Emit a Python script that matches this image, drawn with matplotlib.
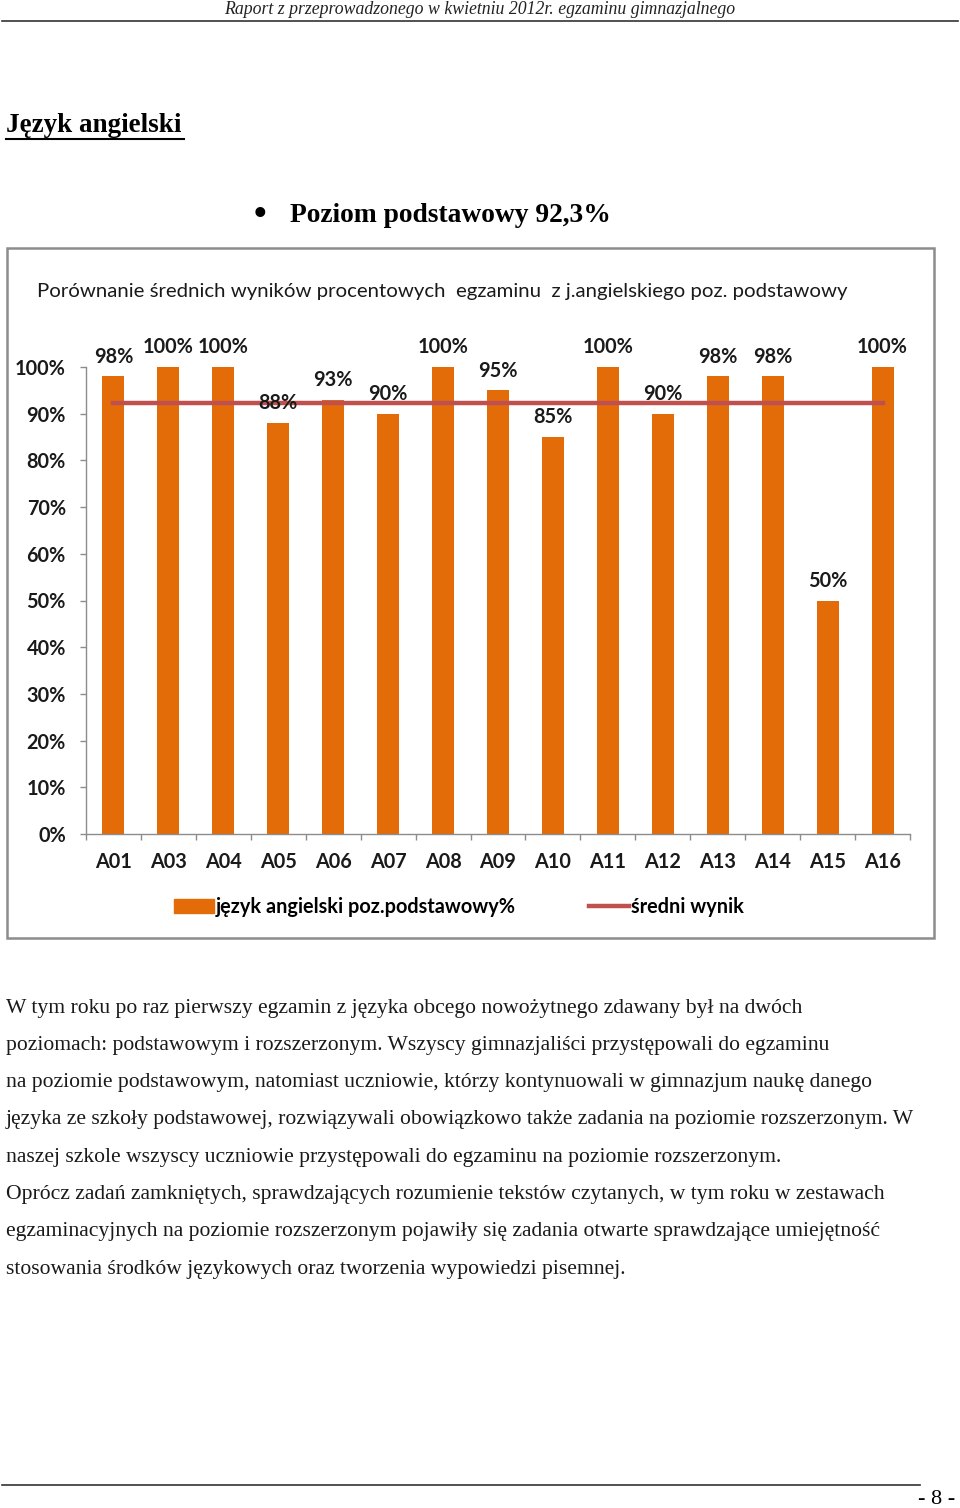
import matplotlib
matplotlib.use("Agg")
import matplotlib.pyplot as plt
from matplotlib.patches import Rectangle, Patch
from matplotlib.lines import Line2D

# data
zadania = ["A01", "A03", "A04", "A05", "A06", "A07", "A08", "A09",
           "A10", "A11", "A12", "A13", "A14", "A15", "A16"]
wyniki = [98, 100, 100, 88, 93, 90, 100, 95, 85, 100, 90, 98, 98, 50, 100]
sredni = 92.3
y_ticks = [0, 10, 20, 30, 40, 50, 60, 70, 80, 90, 100]

naglowek = "Raport z przeprowadzonego w kwietniu 2012r. egzaminu gimnazjalnego"
tytul = "Język angielski"
poziom = "Poziom podstawowy 92,3%"
tytul_wykresu = "Porównanie średnich wyników procentowych  egzaminu  z j.angielskiego poz. podstawowy"
legenda = ["język angielski poz.podstawowy%", "średni wynik"]
akapit = [
    "W tym roku po raz pierwszy egzamin z języka obcego nowożytnego zdawany był na dwóch",
    "poziomach: podstawowym i rozszerzonym. Wszyscy gimnazjaliści przystępowali do egzaminu",
    "na poziomie podstawowym, natomiast uczniowie, którzy kontynuowali w gimnazjum naukę danego",
    "języka ze szkoły podstawowej, rozwiązywali obowiązkowo także zadania na poziomie rozszerzonym. W",
    "naszej szkole wszyscy uczniowie przystępowali do egzaminu na poziomie rozszerzonym.",
    "Oprócz zadań zamkniętych, sprawdzających rozumienie tekstów czytanych, w tym roku w zestawach",
    "egzaminacyjnych na poziomie rozszerzonym pojawiły się zadania otwarte sprawdzające umiejętność",
    "stosowania środków językowych oraz tworzenia wypowiedzi pisemnej.",
]
strona = "- 8 -"

ORANGE = "#E36C09"
RED = "#C0504D"
W, H = 960, 1508
SERIF = "Liberation Serif"
SANS = "Lato"
FS = 14.3  # chart label size

fig = plt.figure(figsize=(W / 100, H / 100), dpi=100)


def fx(px):
    return px / W


def fy(py):
    return 1 - py / H


# page header / footer
fig.text(fx(480), fy(9), naglowek, family=SERIF, style="italic", fontsize=12.8,
         ha="center", va="center", color="#222222")
fig.add_artist(Line2D([fx(2), fx(958)], [fy(21), fy(21)], color="#333333", lw=1.2))
fig.add_artist(Line2D([fx(2), fx(920)], [fy(1485), fy(1485)], color="#333333", lw=1.2))
fig.text(fx(955), fy(1499), strona, family=SERIF, fontsize=16, ha="right", va="center")

fig.text(fx(6), fy(125), tytul, family=SERIF, weight="bold", fontsize=19.5,
         ha="left", va="center")
fig.add_artist(Line2D([fx(6), fx(184)], [fy(139), fy(139)], color="black", lw=1.5))
fig.text(fx(260), fy(216), "\u2022", family=SERIF, fontsize=30, ha="center", va="center")
fig.text(fx(290), fy(215), poziom, family=SERIF, weight="bold", fontsize=19.8,
         ha="left", va="center")

# chart frame
fig.add_artist(Rectangle((fx(7), fy(938)), fx(927), 690 / H, transform=fig.transFigure,
                         fill=False, edgecolor="#8C8C8C", lw=1.8))
fig.text(fx(37), fy(292), tytul_wykresu, family=SANS, fontsize=14.7,
         ha="left", va="center", color="#1a1a1a")

ax = fig.add_axes([fx(86), fy(834), fx(910 - 86), (834 - 367) / H])
x = list(range(len(zadania)))
ax.bar(x, wyniki, width=0.4, color=ORANGE, zorder=2)
ax.plot([x[0], x[-1]], [sredni, sredni], color=RED, lw=3.2, zorder=3)

for xi, v in zip(x, wyniki):
    ax.annotate(f"{v}%", (xi, v), xytext=(0, 7), textcoords="offset points",
                ha="center", va="bottom", family=SANS, weight="bold",
                fontsize=FS, color="#1a1a1a")

ax.set_xlim(-0.5, len(zadania) - 0.5)
ax.set_ylim(0, 100)
ax.set_yticks(y_ticks)
ax.set_yticklabels([f"{v}%" for v in y_ticks], family=SANS, weight="bold",
                   fontsize=FS, color="#1a1a1a")
ax.set_xticks(x)
ax.set_xticklabels(zadania, family=SANS, weight="bold", fontsize=FS, color="#1a1a1a")
ax.set_xticks([i - 0.5 for i in range(len(zadania) + 1)], minor=True)
ax.tick_params(axis="x", which="major", length=0, pad=13)
ax.tick_params(axis="x", which="minor", length=4, color="#8C8C8C", width=1)
ax.tick_params(axis="y", length=4, color="#8C8C8C", width=1, pad=10.5)
for s in ["top", "right"]:
    ax.spines[s].set_visible(False)
for s in ["left", "bottom"]:
    ax.spines[s].set_color("#8C8C8C")
    ax.spines[s].set_linewidth(1)

handles = [Patch(facecolor=ORANGE, edgecolor=ORANGE),
           Line2D([], [], color=RED, lw=3.2)]
ax.legend(handles, legenda, loc="center", bbox_to_anchor=(fx(459), fy(907)),
          bbox_transform=fig.transFigure, ncol=2, frameon=False, handlelength=2.0,
          handleheight=0.65, handletextpad=0.1, columnspacing=3.7,
          prop={"family": SANS, "weight": "bold", "size": FS})

# paragraph
for i, line in enumerate(akapit):
    fig.text(fx(6), fy(1008 + i * 37.3), line, family=SERIF, fontsize=15.6,
             ha="left", va="center", color="#1a1a1a")

fig.savefig("out.png", dpi=100)
